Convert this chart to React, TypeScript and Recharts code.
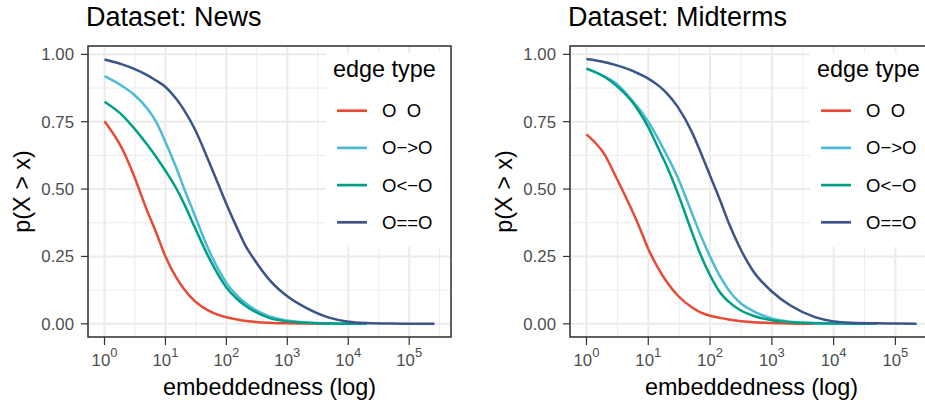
import { LineChart, Line, XAxis, YAxis, CartesianGrid, ReferenceArea, Legend } from "recharts";

const FONT = '"Liberation Sans", Arial, Helvetica, sans-serif';

const edgeTypes = ["O\u00A0\u00A0O", "O\u2212>O", "O<\u2212O", "O==O"];
const edgeColors = ["#E64B35", "#4DBBD5", "#00A087", "#3C5488"];

// Dataset: News
const newsX = [1, 2, 3, 5, 7, 10, 15, 20, 30, 50, 70, 100, 150, 200, 300, 500, 1000, 2000, 5000, 10000, 20000, 50000, 100000, 260000];
const newsOO = [0.752, 0.645, 0.553, 0.42, 0.34, 0.25, 0.172, 0.13, 0.085, 0.05, 0.035, 0.024, 0.016, 0.011, 0.007, 0.004, 0.002, 0.001, 0, null, null, null, null, null];
const newsOut = [0.919, 0.881, 0.852, 0.8, 0.75, 0.675, 0.58, 0.505, 0.405, 0.28, 0.212, 0.152, 0.105, 0.079, 0.052, 0.028, 0.012, 0.005, 0.002, 0.001, 0, null, null, null];
const newsIn = [0.824, 0.772, 0.728, 0.665, 0.62, 0.568, 0.503, 0.448, 0.36, 0.252, 0.19, 0.135, 0.092, 0.069, 0.044, 0.022, 0.009, 0.004, 0.001, 0.0005, 0, null, null, null];
const newsBoth = [0.981, 0.962, 0.947, 0.923, 0.903, 0.879, 0.835, 0.795, 0.725, 0.61, 0.53, 0.445, 0.355, 0.295, 0.232, 0.165, 0.102, 0.06, 0.022, 0.008, 0.003, 0.001, 0.0005, 0];

// Dataset: Midterms
const midX = [1, 2, 3, 5, 7, 10, 15, 20, 30, 50, 70, 100, 150, 200, 300, 500, 1000, 2000, 5000, 10000, 20000, 50000, 100000, 220000];
const midOO = [0.703, 0.625, 0.545, 0.44, 0.365, 0.278, 0.2, 0.155, 0.105, 0.062, 0.042, 0.03, 0.021, 0.016, 0.01, 0.006, 0.003, 0.001, 0, null, null, null, null, null];
const midOut = [0.947, 0.917, 0.893, 0.84, 0.8, 0.75, 0.68, 0.625, 0.543, 0.415, 0.33, 0.25, 0.17, 0.125, 0.08, 0.047, 0.02, 0.008, 0.003, 0.001, 0.0005, 0, null, null];
const midIn = [0.947, 0.915, 0.885, 0.835, 0.79, 0.73, 0.645, 0.585, 0.485, 0.345, 0.257, 0.18, 0.112, 0.082, 0.052, 0.03, 0.013, 0.006, 0.002, 0.001, 0.0005, 0, null, null];
const midBoth = [0.983, 0.971, 0.96, 0.943, 0.928, 0.91, 0.882, 0.855, 0.805, 0.715, 0.638, 0.55, 0.45, 0.375, 0.285, 0.195, 0.12, 0.068, 0.025, 0.009, 0.004, 0.002, 0.001, 0];

const xTicks = [1, 10, 100, 1000, 10000, 100000];
const xMinor = [3.162, 31.62, 316.2, 3162, 31623, 316228];
const yTicks = [0, 0.25, 0.5, 0.75, 1];
const yMinor = [0.125, 0.375, 0.625, 0.875];
const yDomain = [-0.049, 1.031];

const LogTick = (props: any) => {
  const { x, y, payload } = props;
  const exp = Math.round(Math.log10(payload.value));
  return (
    <text x={x} y={y + 12} textAnchor="middle" fill="#4D4D4D" fontFamily={FONT} fontSize={16.8}>
      10<tspan dy={-9.3} fontSize={13}>{exp}</tspan>
    </text>
  );
};

// legend drawn from the same names/colours as the lines, in their order
const renderLegend = (width: number) => () => (
  <svg width={width} height={194} style={{ display: "block" }}>
    <rect x={0} y={0} width={width} height={194} fill="#ffffff" />
    <text x={7} y={24} fontSize={23.4} fontFamily={FONT} fill="#000">edge type</text>
    {edgeTypes.map((name, i) => (
      <g key={i}>
        <line x1={11} x2={41} y1={57.7 + 37.2 * i} y2={57.7 + 37.2 * i} stroke={edgeColors[i]} strokeWidth={2.7} />
        <text x={56} y={64 + 37.3 * i} fontSize={18.5} fontFamily={FONT} fill="#000">{name}</text>
      </g>
    ))}
  </svg>
);

interface PanelProps {
  title: string;
  xs: number[];
  series: (number | null)[][];
  xDomain: [number, number];
  left: number;
  legendLeft: number;
  legendWidth: number;
}

function Panel({ title, xs, series, xDomain, left, legendLeft, legendWidth }: PanelProps) {
  const data = xs.map((x, i) => {
    const row: any = { x };
    series.forEach((s, k) => (row["s" + k] = s[i]));
    return row;
  });

  return (
    <div style={{ position: "absolute", left, top: 0, width: 460, height: 404 }}>
      <div style={{ position: "absolute", left: 86, top: 4, fontSize: 27, lineHeight: 1, fontFamily: FONT, color: "#000", whiteSpace: "nowrap" }}>
        {title}
      </div>
      <LineChart width={460} height={404} data={data} margin={{ top: 46, right: 9, bottom: 0, left: 0 }}>
        <CartesianGrid stroke="#EBEBEB" strokeWidth={1} horizontalValues={yMinor} verticalValues={xMinor} />
        <CartesianGrid stroke="#EBEBEB" strokeWidth={2} />
        <XAxis
          dataKey="x"
          type="number"
          scale="log"
          domain={xDomain}
          allowDataOverflow
          ticks={xTicks}
          interval={0}
          height={67}
          tickSize={8}
          tickMargin={9}
          axisLine={false}
          tickLine={{ stroke: "#333333", strokeWidth: 1.2 }}
          tick={LogTick}
          label={{ value: "embeddedness (log)", position: "insideBottom", offset: 9, fill: "#000", fontSize: 23.4, fontFamily: FONT }}
        />
        <YAxis
          type="number"
          domain={yDomain}
          allowDataOverflow
          ticks={yTicks}
          interval={0}
          width={88}
          tickSize={7}
          tickMargin={7}
          axisLine={false}
          tickLine={{ stroke: "#333333", strokeWidth: 1.2 }}
          tickFormatter={(v: number) => v.toFixed(2)}
          tick={{ fill: "#4D4D4D", fontSize: 16.8, fontFamily: FONT }}
          label={(p: any) => {
            const vb = p.viewBox || { x: 0, y: 46, width: 88, height: 291 };
            const cx = vb.x + 29.5;
            const cy = vb.y + vb.height / 2;
            return (
              <text x={cx} y={cy} transform={`rotate(-90 ${cx} ${cy})`} textAnchor="middle" fontSize={23.4} fontFamily={FONT} fill="#000">
                p(X &gt; x)
              </text>
            );
          }}
        />
        <ReferenceArea x1={xDomain[0]} x2={xDomain[1]} y1={yDomain[0]} y2={yDomain[1]} fill="none" stroke="#333333" strokeWidth={1.5} ifOverflow="visible" />
        {series.map((_, k) => (
          <Line
            key={k}
            dataKey={"s" + k}
            name={edgeTypes[k]}
            stroke={edgeColors[k]}
            strokeWidth={2.5}
            dot={false}
            type="monotone"
            isAnimationActive={false}
          />
        ))}
        <Legend
          layout="vertical"
          align="center"
          verticalAlign="middle"
          wrapperStyle={{ left: legendLeft, top: 53, width: legendWidth, height: 194 }}
          content={renderLegend(legendWidth)}
        />
      </LineChart>
    </div>
  );
}

export default function App() {
  return (
    <div style={{ position: "fixed", left: 0, top: 0, width: 925, height: 404, overflow: "hidden", background: "#fff" }}>
      <Panel
        title="Dataset: News"
        xs={newsX}
        series={[newsOO, newsOut, newsIn, newsBoth]}
        xDomain={[0.536, 485000]}
        left={0}
        legendLeft={326}
        legendWidth={124}
      />
      <Panel
        title="Dataset: Midterms"
        xs={midX}
        series={[midOO, midOut, midIn, midBoth]}
        xDomain={[0.541, 406000]}
        left={482}
        legendLeft={328}
        legendWidth={122}
      />
    </div>
  );
}
